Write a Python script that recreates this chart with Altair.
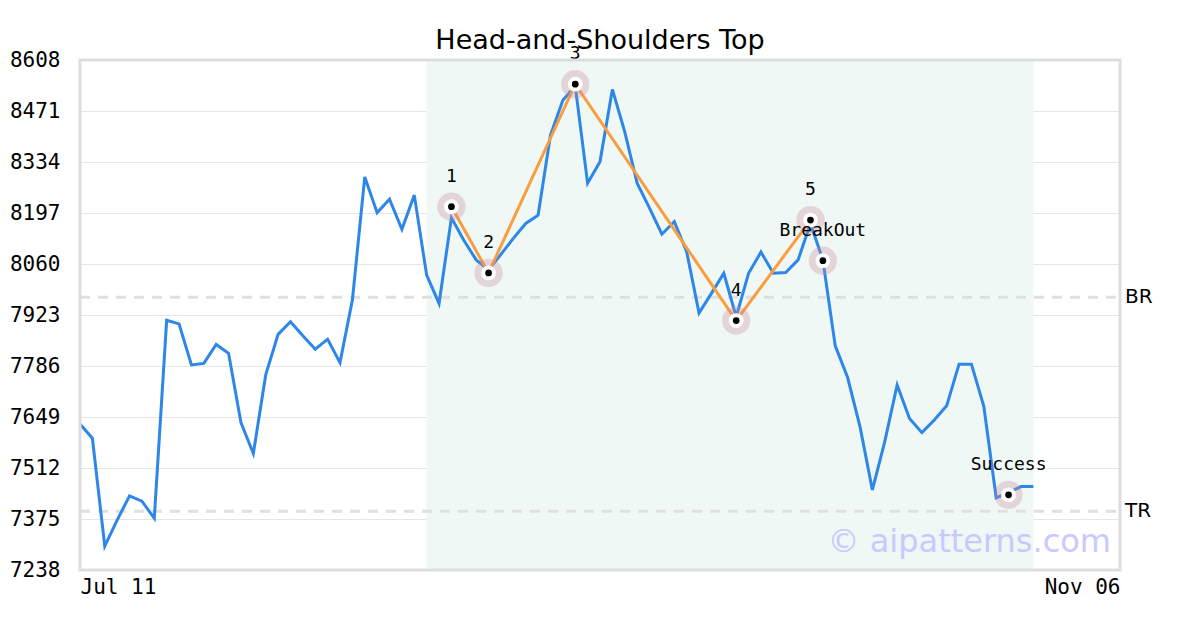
import altair as alt
import pandas as pd

# ---- data ----
prices = [7630, 7592, 7302, 7372, 7437, 7423, 7377, 7909, 7899, 7789,
          7793, 7844, 7820, 7634, 7551, 7762, 7871, 7905, 7867, 7831,
          7858, 7795, 7963, 8294, 8198, 8234, 8153, 8245, 8030, 7954,
          8184, 8124, 8071, 8044, 8086, 8129, 8169, 8191, 8406, 8500,
          8538, 8277, 8335, 8529, 8415, 8277, 8210, 8140, 8174, 8093,
          7928, 7981, 8035, 7918, 8035, 8092, 8035, 8037, 8071, 8169,
          8071, 7840, 7755, 7623, 7453, 7583, 7735, 7645, 7607, 7641,
          7679, 7791, 7791, 7678, 7432, 7446, 7462, 7462]

pivot_idx = [30, 33, 40, 53, 59]
pivot_val = [8214, 8036, 8543, 7908, 8178]
pivot_lbl = ["1", "2", "3", "4", "5"]

extra_idx = [60, 75]
extra_val = [8069, 7440]
extra_lbl = ["BreakOut", "Success"]

level_names = ["BR", "TR"]
level_vals = [7971, 7396]

y_ticks = [7238, 7375, 7512, 7649, 7786, 7923, 8060, 8197, 8334, 8471, 8608]
x_domain = [0, 84]
x_labels = ["Jul 11", "Nov 06"]
shade_range = [28, 77]

title_text = "Head-and-Shoulders Top"
watermark = "\u00a9 aipatterns.com"

# ---- tables ----
price_df = pd.DataFrame({"i": list(range(len(prices))), "price": prices})
pivot_df = pd.DataFrame({"i": pivot_idx, "price": pivot_val, "label": pivot_lbl})
marker_df = pd.DataFrame({"i": pivot_idx + extra_idx,
                          "price": pivot_val + extra_val,
                          "label": pivot_lbl + extra_lbl})
level_df = pd.DataFrame({"name": level_names, "price": level_vals})
shade_df = pd.DataFrame({"x0": [shade_range[0]], "x1": [shade_range[1]]})

W, H = 1040, 510
MONO = "DejaVu Sans Mono"

xscale = alt.Scale(domain=x_domain, nice=False, zero=False)
yscale = alt.Scale(domain=[y_ticks[0], y_ticks[-1]], nice=False, zero=False)

label_expr = f"datum.value == {x_domain[0]} ? '{x_labels[0]}' : '{x_labels[1]}'"

x_axis = alt.Axis(values=x_domain, labelExpr=label_expr, labelFlush=True,
                  grid=False, ticks=False, domain=False, title=None,
                  labelFont=MONO, labelFontSize=21, labelColor="#000000",
                  labelPadding=6)
y_axis = alt.Axis(values=y_ticks, format="d", grid=True, gridColor="#e6e6e6",
                  gridWidth=1, ticks=False, domain=False, title=None,
                  labelFont=MONO, labelFontSize=21, labelColor="#000000",
                  labelPadding=20)

shade = alt.Chart(shade_df).mark_rect(color="#eff8f5").encode(
    x=alt.X("x0:Q", scale=xscale, axis=x_axis),
    x2="x1:Q",
    y=alt.value(0),
    y2=alt.value(H),
)

grid = alt.Chart(price_df).mark_line(opacity=0).encode(
    x=alt.X("i:Q", scale=xscale, axis=x_axis),
    y=alt.Y("price:Q", scale=yscale, axis=y_axis),
)

levels = alt.Chart(level_df).mark_rule(color="#e0e0e0", strokeWidth=3,
                                       strokeDash=[10, 8]).encode(
    y=alt.Y("price:Q", scale=yscale),
    x=alt.value(0),
    x2=alt.value(W),
)

level_text = alt.Chart(level_df).mark_text(align="left", baseline="middle",
                                           font="DejaVu Sans", fontSize=20,
                                           color="#000000").encode(
    y=alt.Y("price:Q", scale=yscale),
    x=alt.value(W + 5),
    text="name:N",
)

price_line = alt.Chart(price_df).mark_line(color="#2d86e8", strokeWidth=3).encode(
    x=alt.X("i:Q", scale=xscale),
    y=alt.Y("price:Q", scale=yscale),
)

pattern_line = alt.Chart(pivot_df).mark_line(color="#f99d3f", strokeWidth=3).encode(
    x=alt.X("i:Q", scale=xscale),
    y=alt.Y("price:Q", scale=yscale),
)

halo = alt.Chart(marker_df).mark_circle(size=800, color="#c98a9a", opacity=0.32).encode(
    x=alt.X("i:Q", scale=xscale), y=alt.Y("price:Q", scale=yscale))
ring = alt.Chart(marker_df).mark_circle(size=220, color="#ffffff", opacity=1).encode(
    x=alt.X("i:Q", scale=xscale), y=alt.Y("price:Q", scale=yscale))
dot = alt.Chart(marker_df).mark_circle(size=45, color="#000000", opacity=1).encode(
    x=alt.X("i:Q", scale=xscale), y=alt.Y("price:Q", scale=yscale))

labels = alt.Chart(marker_df).mark_text(font=MONO, fontSize=18, color="#000000",
                                        baseline="middle", align="center", dy=-30).encode(
    x=alt.X("i:Q", scale=xscale),
    y=alt.Y("price:Q", scale=yscale),
    text="label:N",
)

wm = alt.Chart(pd.DataFrame({"t": [watermark]})).mark_text(
    font="DejaVu Sans", fontSize=32, color="#c9c9ff", align="right",
    baseline="middle").encode(
    x=alt.value(W - 9), y=alt.value(H - 28), text="t:N")

frame = alt.Chart(shade_df).mark_rect(filled=False, stroke="#dddddd",
                                      strokeWidth=3).encode(
    x=alt.value(0), x2=alt.value(W), y=alt.value(0), y2=alt.value(H))

chart = alt.layer(
    shade, grid, levels, level_text, price_line, pattern_line,
    halo, ring, dot, labels, wm, frame,
).properties(
    width=W, height=H,
    title=alt.TitleParams(title_text, font="DejaVu Sans", fontSize=27,
                          fontWeight="normal", color="#000000",
                          anchor="middle", offset=8, dy=18),
    autosize=alt.AutoSizeParams(type="none"),
    padding={"left": 72, "top": 52, "right": 72, "bottom": 52},
).configure_view(
    stroke=None,
).configure(background="#ffffff")

chart.save("out.html", embed_options={"renderer": "svg", "actions": False})
